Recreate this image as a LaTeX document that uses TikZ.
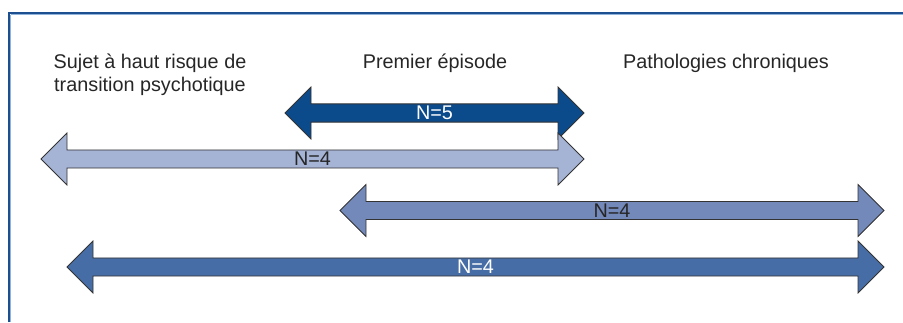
\documentclass[tikz,border=0pt]{standalone}
\usepackage{fontspec}
\setmainfont{Liberation Sans}
\usetikzlibrary{shapes.arrows}
\definecolor{frameblue}{HTML}{1B4F8F}
\definecolor{framelight}{HTML}{8FB3DA}
\definecolor{navyarrow}{HTML}{0B4A8B}
\definecolor{palearrow}{HTML}{A5B3D5}
\definecolor{midarrow}{HTML}{7389BA}
\definecolor{deeparrow}{HTML}{466DA5}
\definecolor{outline}{HTML}{333333}
\tikzset{
  phase/.style={anchor=base, inner sep=0pt, text=black!85},
  span/.style={double arrow, double arrow tip angle=90, double arrow head extend=13.5pt,
    minimum width=52pt, inner sep=0pt, draw=outline, line width=0.8pt, line join=miter},
}
\begin{document}
\begin{tikzpicture}[x=1pt, y=-1pt, font=\fontsize{19.8}{23.5}\selectfont]
\useasboundingbox (0,0) rectangle (903,322);
\draw[framelight, line width=1pt] (10.5,14.5)--(903,14.5) (10.5,14.5)--(10.5,322);
\draw[frameblue, line width=1.2pt] (9,322)--(9,13)--(903,13);
\node[phase, align=center, anchor=center] (risk) at (150,75) {Sujet à haut risque de\\transition psychotique};
\node[phase] (first) at (435,68) {Premier épisode};
\node[phase] (chronic) at (726,68) {Pathologies chroniques};
\node[span, fill=navyarrow, text=white, minimum height=299pt] (n5) at (434.5,113) {N=5};
\node[span, fill=palearrow, text=black!85, minimum height=543pt] (n4a) at (312.5,159) {N=4};
\node[span, fill=midarrow, text=black!85, minimum height=544pt] (n4b) at (612,210.5) {N=4};
\node[span, fill=deeparrow, text=white, minimum height=817pt] (n4c) at (475.5,267) {N=4};
\end{tikzpicture}
\end{document}
